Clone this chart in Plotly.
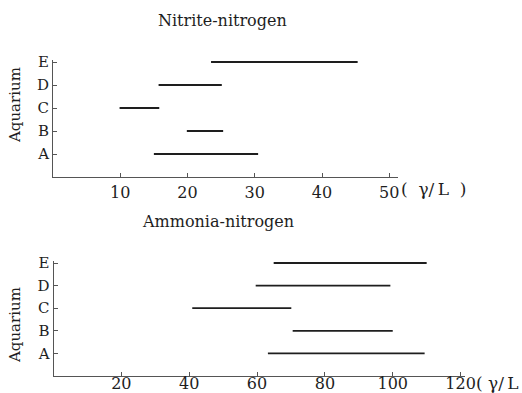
import plotly.graph_objects as go

aquaria = ["A", "B", "C", "D", "E"]
nitrite_low = [15.0, 19.9, 9.9, 15.7, 23.5]
nitrite_high = [30.5, 25.3, 15.8, 25.1, 45.3]
ammonia_low = [63.2, 70.5, 40.9, 59.6, 64.9]
ammonia_high = [109.4, 100.0, 70.1, 99.3, 110.0]
nitrite_ticks = [10, 20, 30, 40, 50]
ammonia_ticks = [20, 40, 60, 80, 100, 120]

W, H = 522, 393
SERIF = "DejaVu Serif"
INK = "#1e1e1e"

def segs(lows, highs):
    xs, ys = [], []
    for i, (lo, hi) in enumerate(zip(lows, highs)):
        xs += [lo, hi, None]
        ys += [i + 1, i + 1, None]
    return xs, ys

fig = go.Figure()
x1, y1 = segs(nitrite_low, nitrite_high)
fig.add_trace(go.Scatter(x=x1, y=y1, mode="lines", line=dict(color=INK, width=1.8),
                         xaxis="x", yaxis="y", showlegend=False, hoverinfo="skip"))
x2, y2 = segs(ammonia_low, ammonia_high)
fig.add_trace(go.Scatter(x=x2, y=y2, mode="lines", line=dict(color=INK, width=1.8),
                         xaxis="x2", yaxis="y2", showlegend=False, hoverinfo="skip"))

def px(xp):
    return xp / W

def py(yp):
    return 1 - yp / H

YTOP = 5.08
xaxis_common = dict(showgrid=False, zeroline=False, showline=True, linecolor="#555", linewidth=1,
                    ticks="inside", ticklen=4, tickcolor="#555", tickwidth=1, automargin=False,
                    tickfont=dict(family=SERIF, size=16, color=INK))
yaxis_common = dict(showgrid=False, zeroline=False, showline=True, linecolor="#555", linewidth=1,
                    ticks="inside", ticklen=4, tickcolor="#555", tickwidth=1, automargin=False,
                    tickvals=[1, 2, 3, 4, 5], ticktext=aquaria, range=[0, YTOP],
                    tickfont=dict(family=SERIF, size=15, color=INK))

UNIT = "(\u00a0\u00a0γ/\u2009L\u00a0\u00a0)"
UNIT2 = "(\u00a0γ/\u2009L\u00a0)"

fig.update_layout(
    width=W, height=H, margin=dict(l=0, r=0, t=0, b=0, autoexpand=False),
    paper_bgcolor="white", plot_bgcolor="white",
    xaxis=dict(domain=[px(53), px(398)], range=[0, 51.3], tickvals=nitrite_ticks,
               anchor="y", ticklabelstandoff=1, **xaxis_common),
    yaxis=dict(domain=[py(177), py(177 - 23 * YTOP)], anchor="x", **yaxis_common),
    xaxis2=dict(domain=[px(53.5), px(465)], range=[0, 121.3], tickvals=ammonia_ticks,
                anchor="y2", ticklabelstandoff=-7, **xaxis_common),
    yaxis2=dict(domain=[py(376), py(376 - 22.6 * YTOP)], anchor="x2", **yaxis_common),
    annotations=[
        dict(text="Nitrite-nitrogen", x=px(222), y=py(21), xref="paper", yref="paper",
             yanchor="middle", showarrow=False, font=dict(family=SERIF, size=16, color=INK)),
        dict(text="Ammonia-nitrogen", x=px(218), y=py(221), xref="paper", yref="paper",
             yanchor="middle", showarrow=False, font=dict(family=SERIF, size=16, color=INK)),
        dict(text="Aquarium", x=px(15), y=py(105), xref="paper", yref="paper", textangle=-90,
             xanchor="center", yanchor="middle",
             showarrow=False, font=dict(family=SERIF, size=15, color=INK)),
        dict(text="Aquarium", x=px(15), y=py(325), xref="paper", yref="paper", textangle=-90,
             xanchor="center", yanchor="middle",
             showarrow=False, font=dict(family=SERIF, size=15, color=INK)),
        dict(text=UNIT, x=px(399), y=py(189), xref="paper", yref="paper", xanchor="left",
             yanchor="middle", showarrow=False, font=dict(family=SERIF, size=17, color=INK)),
        dict(text=UNIT2, x=px(474), y=py(383), xref="paper", yref="paper", xanchor="left",
             yanchor="middle", showarrow=False, font=dict(family=SERIF, size=17, color=INK)),
    ],
)

fig.write_html("out.html", config={"displayModeBar": False},
               post_script="document.body.style.margin='0';document.body.style.overflow='hidden';")
